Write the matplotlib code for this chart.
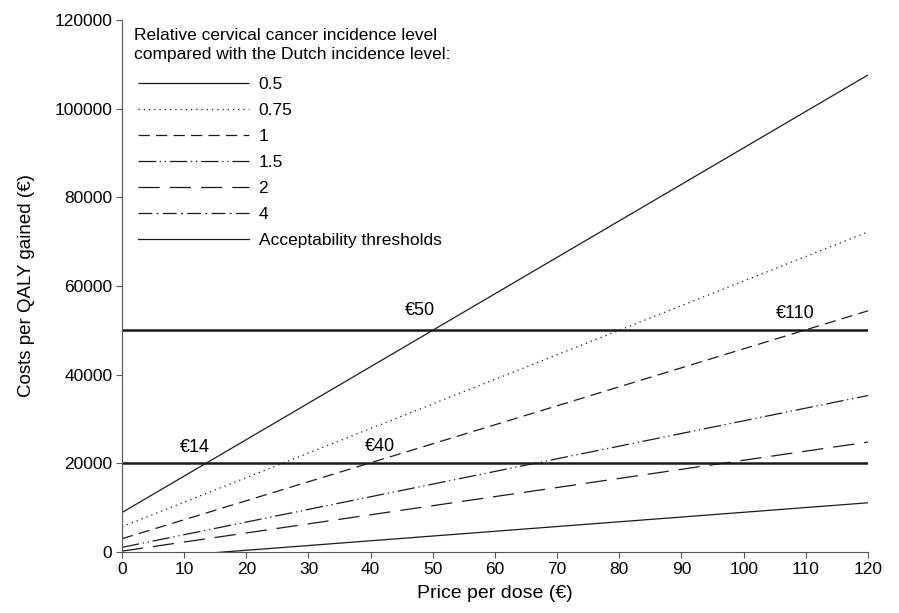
import matplotlib
matplotlib.use("Agg")
import matplotlib.pyplot as plt
from matplotlib.lines import Line2D

plt.rcParams['font.family'] = ['Liberation Sans', 'DejaVu Sans']

# price per dose (euro), end points of each line
price = [0, 120]

# costs per QALY gained at price 0 and 120, by relative incidence level
levels = ["0.5", "0.75", "1", "1.5", "2", "4"]
cost_05 = [8900, 107600]
cost_075 = [5700, 72200]
cost_1 = [3000, 54400]
cost_15 = [1050, 35300]
cost_2 = [200, 24800]
cost_4 = [-1750, 11100]

thresholds = [20000, 50000]

# break-even prices written on the chart
labels_text = ["€14", "€40", "€50", "€110"]
labels_x = [11.7, 41.5, 48.0, 108.3]
labels_y = [23500, 23700, 54400, 53900]

legend_title = "Relative cervical cancer incidence level\ncompared with the Dutch incidence level:"

col = "#1a1a1a"
styles = [
    (0, ()),                      # 0.5
    (0, (1, 3.2)),                # 0.75
    (0, (9, 5)),                  # 1
    (0, (14, 3, 1, 3, 1, 3)),     # 1.5
    (0, (17, 8)),                 # 2
    (0, (11, 3.5, 1.5, 3.5)),     # 4
]

fig = plt.figure(figsize=(8.99, 6.13), dpi=100)
ax = fig.add_axes([0.1357, 0.0995, 0.8298, 0.8679])

series = [cost_05, cost_075, cost_1, cost_15, cost_2, cost_4]
for i, ys in enumerate(series):
    ls = styles[i]
    if i == 5:
        ls = "-"   # the lowest line is drawn solid in the figure
    ax.plot(price, ys, color=col, lw=0.9, linestyle=ls)

for t in thresholds:
    ax.plot(price, [t, t], color=col, lw=1.8)

for s, x, y in zip(labels_text, labels_x, labels_y):
    ax.text(x, y, s, ha="center", va="center", fontsize=13)

ax.set_xlim(0, 120)
ax.set_ylim(0, 120000)
ax.set_xticks(range(0, 121, 10))
ax.set_yticks(range(0, 120001, 20000))
ax.tick_params(labelsize=12.5, direction="out", length=4, color="#555555", pad=3)
for side in ["top", "right"]:
    ax.spines[side].set_visible(False)
for side in ["left", "bottom"]:
    ax.spines[side].set_color("#555555")

ax.set_xlabel("Price per dose (€)", fontsize=14, labelpad=6)
ax.set_ylabel("Costs per QALY gained (€)", fontsize=13.5, labelpad=14)

# legend title as plain text so the gap to the entries can be set
ax.text(0.016, 0.985, legend_title, transform=ax.transAxes, ha="left", va="top",
        fontsize=12.5, linespacing=1.35)

handles = [Line2D([], [], color=col, lw=0.9, linestyle=s) for s in styles]
handles.append(Line2D([], [], color=col, lw=0.9))
names = levels + ["Acceptability thresholds"]
leg = ax.legend(handles, names, loc="upper left", bbox_to_anchor=(0.012, 0.906),
                frameon=False, fontsize=12.5, handlelength=6.4,
                handletextpad=0.55, labelspacing=0.62, borderaxespad=0.0)

fig.savefig("out.png", dpi=100)
